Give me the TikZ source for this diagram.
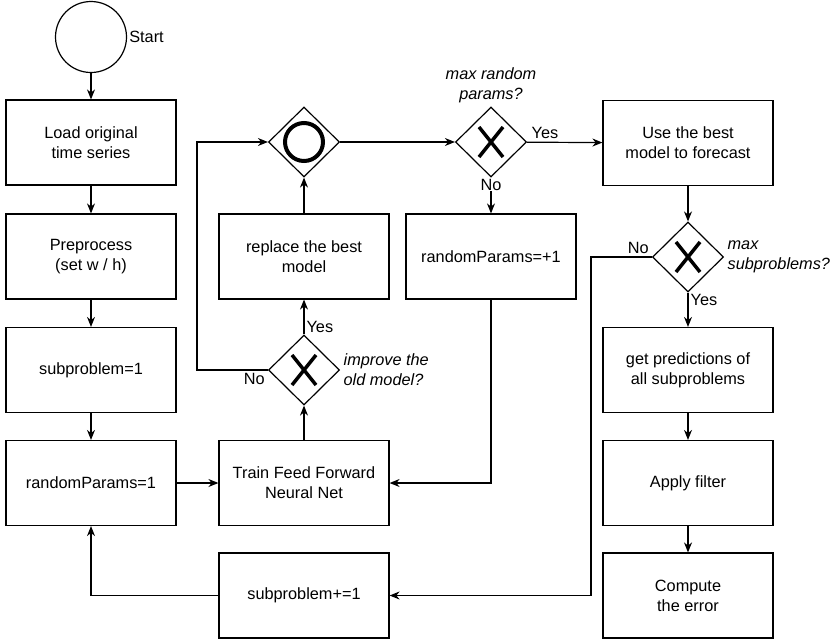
\documentclass[tikz,border=0pt]{standalone}
\usepackage{fontspec}
\setmainfont{Liberation Sans}
\usepackage{tikz}
\usetikzlibrary{shapes.geometric,arrows.meta}

\begin{document}
\begin{tikzpicture}[x=1pt,y=-1pt,
  font=\fontsize{16.3}{20}\selectfont,
  box/.style={draw,line width=1.2pt,minimum width=170pt,minimum height=85pt,align=center,inner sep=2pt},
  gate/.style={draw,diamond,line width=1.2pt,minimum width=71pt,minimum height=70pt,inner sep=0pt},
  flow/.style={line width=1.2pt,-{Stealth[length=10pt,width=8pt]}},
  xcross/.style={line width=3.5pt},
  note/.style={font=\fontsize{16.3}{20}\selectfont\itshape,align=left}]
  \useasboundingbox (0,0) rectangle (837,641);

  % left column
  \node[draw,circle,line width=1.2pt,minimum size=71pt,inner sep=0pt] (start) at (91,37) {};
  \node[anchor=west,inner sep=2pt] (startlbl) at (start.east) {Start};
  \node[box] (load) at (91,142.5) {Load original\\time series};
  \node[box] (prep) at (91,256.5) {Preprocess\\(set w / h)};
  \node[box] (sub) at (91,370) {subproblem=1};
  \node[box] (rnd) at (91,483) {randomParams=1};

  % training loop
  \node[gate] (merge) at (304,142) {};
  \node[box] (replace) at (304,256.5) {replace the best\\model};
  \node[gate] (better) at (304,370) {};
  \node[box] (train) at (304,483) {Train Feed Forward\\Neural Net};
  \node[box] (subinc) at (304,595.5) {subproblem+=1};
  \node[gate] (maxrnd) at (491,142) {};
  \node[box] (rndinc) at (491,256.5) {randomParams=+1};

  % right column
  \node[box] (use) at (688,143) {Use the best\\model to forecast};
  \node[gate] (maxsub) at (688,257) {};
  \node[box] (pred) at (688,370) {get predictions of\\all subproblems};
  \node[box] (filter) at (688,483) {Apply filter};
  \node[box] (err) at (688,595.5) {Compute\\the error};

  \draw[line width=4pt] (merge.center) circle[radius=19pt];
  \foreach \g in {better,maxrnd,maxsub}{
    \draw[xcross] ([shift={(-12,-15)}]\g.center) -- ([shift={(12,15)}]\g.center);
    \draw[xcross] ([shift={(-12,15)}]\g.center) -- ([shift={(12,-15)}]\g.center);
  }
  \node[note,anchor=south,align=center] (maxrndlbl) at (maxrnd.north) {max random\\params?};
  \node[note,anchor=west] (betterlbl) at (better.east) {improve the\\old model?};
  \node[note,anchor=west] (maxsublbl) at (maxsub.east) {max\\subproblems?};

  \coordinate (lx) at (197,256);
  \coordinate (rx) at (591,420);

  \draw[flow] (start) -- (load);
  \draw[flow] (load) -- (prep);
  \draw[flow] (prep) -- (sub);
  \draw[flow] (sub) -- (rnd);
  \draw[flow] (rnd) -- (train);
  \draw[flow] (train) -- (better);
  \draw[flow] (better) -- node[pos=0.2,right,inner sep=2pt] (yes1) {Yes} (replace);
  \draw[flow] (better.west) -- (better.west -| lx) |- (merge.west);
  \node[anchor=north east,inner sep=3pt] (no1) at (better.west) {No};
  \draw[flow] (replace) -- (merge);
  \draw[flow] (merge) -- (maxrnd);
  \draw[flow] (maxrnd) -- node[pos=0.24,above] (yes2) {Yes} (use);
  \draw[flow] (maxrnd) -- node[pos=0.2,fill=white,inner sep=1pt] (no2) {No} (rndinc);
  \draw[flow] (rndinc) |- (train);
  \draw[flow] (use) -- (maxsub);
  \draw[flow] (maxsub.west) -- (maxsub.west -| rx) |- (subinc);
  \node[anchor=south east,inner sep=3pt] (no3) at (maxsub.west) {No};
  \draw[flow] (maxsub) -- node[pos=0.22,right,inner sep=2pt] (yes3) {Yes} (pred);
  \draw[flow] (pred) -- (filter);
  \draw[flow] (filter) -- (err);
  \draw[flow] (subinc) -| (rnd);
\end{tikzpicture}
\end{document}
